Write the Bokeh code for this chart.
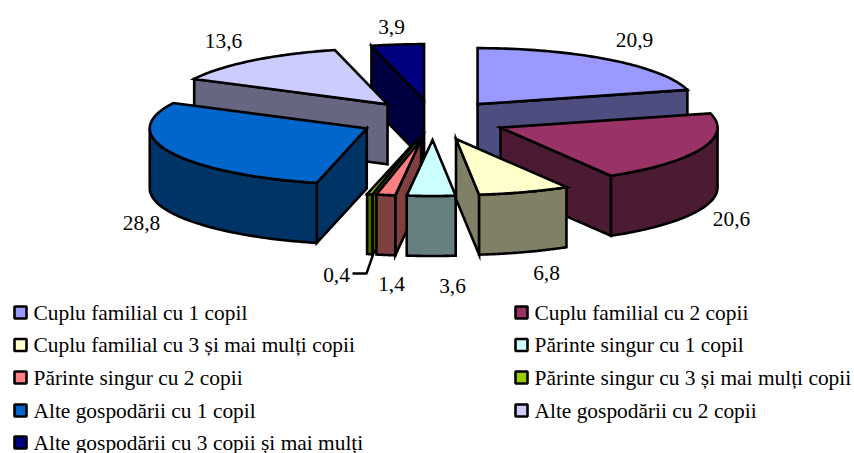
import numpy as np
from bokeh.plotting import figure
from bokeh.models import ColumnDataSource, Range1d
from bokeh.core.properties import value
from bokeh.embed import file_html
from bokeh.resources import INLINE

categories = ["Cuplu familial cu 1 copil", "Cuplu familial cu 2 copii",
              "Cuplu familial cu 3 și mai mulți copii", "Părinte singur cu 1 copil",
              "Părinte singur cu 2 copii", "Părinte singur cu 3 și mai mulți copii",
              "Alte gospodării cu 1 copil", "Alte gospodării cu 2 copii",
              "Alte gospodării cu 3 copii și mai mulți"]
shares = [20.9, 20.6, 6.8, 3.6, 1.4, 0.4, 28.8, 13.6, 3.9]
labels = ["20,9", "20,6", "6,8", "3,6", "1,4", "0,4", "28,8", "13,6", "3,9"]
top_colors = ["#9999FF", "#993366", "#FFFFCC", "#CCFFFF", "#FF8080", "#99CC00", "#0066CC", "#CCCCFF", "#000080"]
side_colors = ["#4D4D80", "#4D1A33", "#808066", "#668080", "#804040", "#4D6600", "#003366", "#666680", "#000040"]

# Layout (screen pixels)
CX, CY = 432.5, 119.5
EX, EY = 73, 20
RX, RY = 217, 56
DEPTH = 60
draw_order = [8, 7, 0, 6, 1, 5, 4, 3, 2]
label_pos = [(634, 39), (731, 218), (546, 272), (452, 285), (391, 283),
             (336, 274), (141, 222), (223, 40), (391, 26)]

total = sum(shares)
cum = np.cumsum([0] + shares) / total * 360.0

xs, ys, fills = [], [], []

def add(px, py, color):
    xs.append(list(px))
    ys.append(list(py))
    fills.append(color)

for i in draw_order:
    a0, a1 = cum[i], cum[i + 1]
    mid = np.radians((a0 + a1) / 2)
    ax = CX + EX * np.sin(mid)
    ay = CY - EY * np.cos(mid)
    pt = lambda deg: (ax + RX * np.sin(np.radians(deg)), ay - RY * np.cos(np.radians(deg)))
    # radial walls facing the viewer
    if np.sin(np.radians(a0)) < 0:
        x, y = pt(a0)
        add([ax, x, x, ax], [ay, y, y + DEPTH, ay + DEPTH], side_colors[i])
    if np.sin(np.radians(a1)) > 0:
        x, y = pt(a1)
        add([ax, x, x, ax], [ay, y, y + DEPTH, ay + DEPTH], side_colors[i])
    # outer rim
    lo, hi = max(a0, 90), min(a1, 270)
    if hi > lo:
        t = np.linspace(lo, hi, 60)
        rim = [pt(d) for d in t]
        rx = [q[0] for q in rim]
        ry = [q[1] for q in rim]
        add(rx + rx[::-1], ry + [v + DEPTH for v in ry[::-1]], side_colors[i])
    # top
    t = np.linspace(a0, a1, 60)
    rim = [pt(d) for d in t]
    add([ax] + [q[0] for q in rim], [ay] + [q[1] for q in rim], top_colors[i])

p = figure(width=854, height=453, output_backend="svg", toolbar_location=None,
           x_range=Range1d(0, 854), y_range=Range1d(453, 0), min_border=0,
           outline_line_color=None, background_fill_color="white")
p.axis.visible = False
p.grid.visible = False

p.patches("xs", "ys", source=ColumnDataSource(dict(xs=xs, ys=ys, fill=fills)),
          fill_color="fill", line_color="black", line_width=2.6, line_join="miter")

# Value labels
p.text([q[0] for q in label_pos], [q[1] for q in label_pos], text=labels,
       text_font=value("Liberation Serif"), text_font_size="21.4px", text_color="black",
       text_align="center", text_baseline="middle")
# Leader line for the 0,4 slice
p.line([373, 366, 352], [253, 273, 273], line_color="black", line_width=2.4)

# Legend
cols = [13, 514]
rows = [312, 344.5, 377, 410, 442]
lx = [cols[i % 2] for i in range(len(categories))]
ly = [rows[i // 2] for i in range(len(categories))]
p.rect([x + 7 for x in lx], ly, width=12, height=12, fill_color=top_colors,
       line_color="black", line_width=2.6)
p.text([x + 20 for x in lx], ly, text=categories, text_font=value("Liberation Serif"),
       text_font_size="21.4px", text_color="black", text_align="left", text_baseline="middle")

open("out.html", "w").write(file_html(p, INLINE))
